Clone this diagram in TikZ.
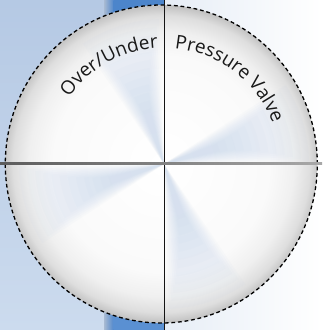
\documentclass[tikz,border=0pt]{standalone}
\usepackage{fontspec}
\newfontfamily\lblfamily{Open Sans}
\newcommand\lblfont{\lblfamily\fontsize{19pt}{22pt}\selectfont}
\usetikzlibrary{decorations.text}
\definecolor{bgtop}{HTML}{B5C9E4}
\definecolor{bgbot}{HTML}{CCDBEE}
\definecolor{stripl}{HTML}{A8BAD2}
\definecolor{stripm}{HTML}{6F7D8E}
\definecolor{stripr}{HTML}{4E86CC}
\definecolor{bluetop}{HTML}{4C85CB}
\definecolor{bluebot}{HTML}{5A90D2}
\definecolor{rightbg}{HTML}{E6EDF6}
\definecolor{wedgeblue}{HTML}{B4C9E6}
\definecolor{hlineL}{HTML}{5C5C5C}
\definecolor{hlineR}{HTML}{A8A8A8}
\pgfdeclareradialshading{discshade}{\pgfpointorigin}{color(0bp)=(white); color(108bp)=(white!98!black); color(132bp)=(white!94!black); color(148bp)=(white!87!black); color(157bp)=(white!77!black); color(162bp)=(white!74!black)}
\tikzset{
  dashedrim/.style={draw=black, line width=1.3pt, dash pattern=on 3.8pt off 2.8pt},
  vline/.style={draw=black!92, line width=1pt},
  arctext/.style={decorate, decoration={text along path, text align=left, text color=black!90}}
}
\begin{document}
\begin{tikzpicture}[x=1pt,y=1pt]
\useasboundingbox (0,0) rectangle (322,330);
% background
\shade[top color=bgtop, bottom color=bgbot] (0,0) rectangle (104.5,330);
\shade[left color=stripl, middle color=stripm, right color=stripr] (104,0) rectangle (114,330);
\shade[top color=bluetop, bottom color=bluebot] (113.5,0) rectangle (164,330);
\shade[left color=rightbg, right color=white] (164,0) rectangle (322,330);
% disc
\coordinate (c) at (161.3,166);
\coordinate (x) at (164,166);
\begin{scope}
  \clip (c) ellipse [x radius=156pt, y radius=159pt];
  \node[inner sep=0pt] (disc) at (c) {\pgfuseshading{discshade}};
  \foreach \a in {17,197,108,288}{
    \foreach \k in {1,...,12}{
      \pgfmathsetmacro\w{16-1.1*(\k-1)}
      \pgfmathsetmacro\r{145-8*(\k-1)}
      \pgfmathsetmacro\sa{\a-\w}
      \pgfmathsetmacro\ea{\a+\w}
      \fill[wedgeblue, fill opacity=0.05] (x) -- ([shift={(\sa:\r pt)}]x) arc[start angle=\sa, end angle=\ea, radius=\r pt] -- cycle;
    }
  }
\end{scope}
\draw[dashedrim] (c) ellipse [x radius=156pt, y radius=159pt];
% cross lines
\coordinate (vt) at (164,330);
\coordinate (vb) at (164,0);
\draw[vline] (vt) -- (vb);
\coordinate (hl) at (0,165);
\coordinate (hr) at (322,167);
\shade[left color=hlineL, right color=hlineR] (hl) rectangle (hr);
% arc texts
\path[arctext, decoration={text={|\lblfont|Over/Under}}]
  ([shift={(144.9:116pt)}]x) arc[start angle=144.9, end angle=80, radius=116pt];
\path[arctext, decoration={text={|\lblfont|Pressure Valve}}]
  ([shift={(84.7:116pt)}]x) arc[start angle=84.7, end angle=5, radius=116pt];
\end{tikzpicture}
\end{document}
